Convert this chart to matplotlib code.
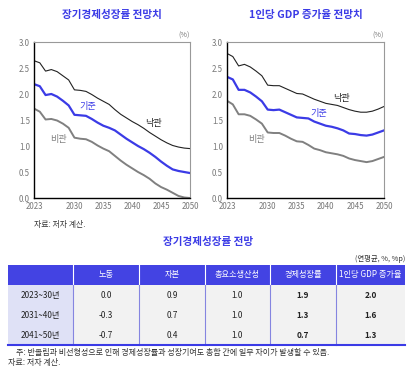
import matplotlib.pyplot as plt
from matplotlib.patches import Rectangle

plt.rcParams['font.family'] = ['Noto Sans CJK KR', 'DejaVu Sans']

W, H = 416, 378

years = list(range(2023, 2051))

# 장기경제성장률 전망치 (%)
gdp_opt = [2.64, 2.60, 2.44, 2.47, 2.43, 2.35, 2.27, 2.08, 2.07, 2.05, 1.99, 1.92, 1.86, 1.80,
           1.70, 1.61, 1.54, 1.47, 1.41, 1.34, 1.26, 1.19, 1.12, 1.06, 1.01, 0.98, 0.96, 0.95]
gdp_base = [2.19, 2.15, 1.98, 2.00, 1.95, 1.87, 1.78, 1.60, 1.59, 1.58, 1.52, 1.45, 1.39, 1.35,
            1.30, 1.22, 1.14, 1.07, 1.00, 0.94, 0.87, 0.79, 0.70, 0.62, 0.55, 0.52, 0.50, 0.48]
gdp_pes = [1.72, 1.66, 1.51, 1.52, 1.49, 1.43, 1.35, 1.16, 1.14, 1.13, 1.08, 1.01, 0.95, 0.90,
           0.81, 0.72, 0.64, 0.57, 0.50, 0.44, 0.37, 0.28, 0.21, 0.16, 0.10, 0.04, 0.01, 0.0]

# 1인당 GDP 증가율 전망치 (%)
pc_opt = [2.78, 2.72, 2.54, 2.57, 2.52, 2.44, 2.35, 2.17, 2.16, 2.16, 2.11, 2.06, 2.01, 2.00,
          1.95, 1.90, 1.86, 1.82, 1.80, 1.78, 1.74, 1.70, 1.67, 1.65, 1.65, 1.67, 1.71, 1.76]
pc_base = [2.33, 2.28, 2.08, 2.08, 2.03, 1.95, 1.86, 1.70, 1.69, 1.70, 1.65, 1.60, 1.55, 1.54,
           1.53, 1.47, 1.43, 1.39, 1.37, 1.34, 1.30, 1.24, 1.23, 1.21, 1.20, 1.22, 1.26, 1.30]
pc_pes = [1.87, 1.80, 1.61, 1.61, 1.58, 1.51, 1.43, 1.26, 1.25, 1.25, 1.20, 1.14, 1.09, 1.08,
          1.02, 0.95, 0.92, 0.88, 0.86, 0.84, 0.81, 0.76, 0.73, 0.71, 0.69, 0.71, 0.75, 0.79]

# 표 데이터
col_labels = ['노동', '자본', '총요소생산성', '경제성장률', '1인당 GDP 증가율']
row_labels = ['2023~30년', '2031~40년', '2041~50년']
table_vals = [['0.0', '0.9', '1.0', '1.9', '2.0'],
              ['-0.3', '0.7', '1.0', '1.3', '1.6'],
              ['-0.7', '0.4', '1.0', '0.7', '1.3']]

BLUE = '#3b3be6'
GRAY = '#808080'

fig = plt.figure(figsize=(W / 100, H / 100), dpi=100)


def fx(px):
    return px / W


def fy(py):
    return 1 - py / H


def make_panel(left, right, title, opt, base, pes, lab_pos):
    ax = fig.add_axes([fx(left), fy(198), fx(right - left), (198 - 42) / H])
    ax.plot(years, opt, color='#222222', lw=0.8)
    ax.plot(years, base, color=BLUE, lw=1.6)
    ax.plot(years, pes, color=GRAY, lw=1.4)
    ax.set_xlim(2023, 2050)
    ax.set_ylim(0, 3.0)
    ax.set_xticks([2023, 2030, 2035, 2040, 2045, 2050])
    ax.set_yticks([0, 0.5, 1.0, 1.5, 2.0, 2.5, 3.0])
    ax.set_yticklabels(['0.0', '0.5', '1.0', '1.5', '2.0', '2.5', '3.0'])
    ax.tick_params(length=0, labelsize=5.7, labelcolor='#777777', pad=3)
    for s in ['left', 'bottom']:
        ax.spines[s].set_color('black')
        ax.spines[s].set_linewidth(1.0)
    for s in ['top', 'right']:
        ax.spines[s].set_color('#999999')
        ax.spines[s].set_linewidth(0.8)
    ax.text(1.0, 1.015, '(%)', transform=ax.transAxes, ha='right', va='bottom',
            fontsize=5.2, color='#777777')
    fig.text(fx((left + right) / 2), fy(15), title, ha='center', va='center',
             fontsize=7.6, fontweight='bold', color=BLUE)
    ax.text(*lab_pos[0], '낙관', fontsize=6.6, color='#222222', ha='center', va='center')
    ax.text(*lab_pos[1], '기준', fontsize=6.6, color=BLUE, ha='center', va='center')
    ax.text(*lab_pos[2], '비관', fontsize=6.6, color=GRAY, ha='center', va='center')
    return ax


make_panel(34, 190, '장기경제성장률 전망치', gdp_opt, gdp_base, gdp_pes,
           [(2043.6, 1.44), (2032.3, 1.75), (2027.2, 1.13)])
make_panel(227, 384, '1인당 GDP 증가율 전망치', pc_opt, pc_base, pc_pes,
           [(2042.7, 1.92), (2038.7, 1.63), (2028.1, 1.12)])

fig.text(fx(34), fy(224), '자료: 저자 계산.', ha='left', va='center', fontsize=5.7, color='#333333')

# 표
fig.text(fx(208), fy(242), '장기경제성장률 전망', ha='center', va='center',
         fontsize=7.6, fontweight='bold', color=BLUE)
fig.text(fx(405), fy(259), '(연평균, %, %p)', ha='right', va='center', fontsize=5.3, color='#333333')

xs = [8, 73, 139, 205, 270, 336, 405]
hdr_top, hdr_bot = 264.5, 284.5
row_h = 20
tbl_bot = hdr_bot + row_h * len(row_labels)

fig.patches.append(Rectangle((fx(xs[0]), fy(hdr_bot)), fx(xs[-1] - xs[0]), (hdr_bot - hdr_top) / H,
                             transform=fig.transFigure, facecolor='#4343e3', edgecolor='none'))
fig.patches.append(Rectangle((fx(xs[0]), fy(tbl_bot)), fx(xs[1] - xs[0]), (tbl_bot - hdr_bot) / H,
                             transform=fig.transFigure, facecolor='#dfe1f6', edgecolor='none'))
fig.patches.append(Rectangle((fx(xs[1]), fy(tbl_bot)), fx(xs[-1] - xs[1]), (tbl_bot - hdr_bot) / H,
                             transform=fig.transFigure, facecolor='#f2f2f2', edgecolor='none'))
for x in xs[1:-1]:
    fig.add_artist(plt.Line2D([fx(x), fx(x)], [fy(hdr_top), fy(hdr_bot)], color='white', lw=0.8))
    fig.add_artist(plt.Line2D([fx(x), fx(x)], [fy(hdr_bot), fy(tbl_bot)], color='#8585e0', lw=0.8))
fig.add_artist(plt.Line2D([fx(xs[0]), fx(xs[-1])], [fy(tbl_bot), fy(tbl_bot)], color=BLUE, lw=1.5))

for j, lab in enumerate(col_labels):
    fig.text(fx((xs[j + 1] + xs[j + 2]) / 2), fy((hdr_top + hdr_bot) / 2), lab,
             ha='center', va='center', fontsize=5.9, color='white')
for i, rl in enumerate(row_labels):
    yc = hdr_bot + row_h * (i + 0.5) + 1
    fig.text(fx((xs[0] + xs[1]) / 2), fy(yc), rl, ha='center', va='center', fontsize=5.9, color='#222222')
    for j, v in enumerate(table_vals[i]):
        fig.text(fx((xs[j + 1] + xs[j + 2]) / 2), fy(yc), v, ha='center', va='center', fontsize=5.9,
                 color='#222222', fontweight='bold' if j >= 3 else 'normal')

fig.text(fx(16), fy(352), '주: 반올림과 비선형성으로 인해 경제성장률과 성장기여도 총합 간에 일부 차이가 발생할 수 있음.',
         ha='left', va='center', fontsize=5.8, color='#333333')
fig.text(fx(8), fy(362), '자료: 저자 계산.', ha='left', va='center', fontsize=5.8, color='#333333')

fig.savefig('out.png', dpi=100)
